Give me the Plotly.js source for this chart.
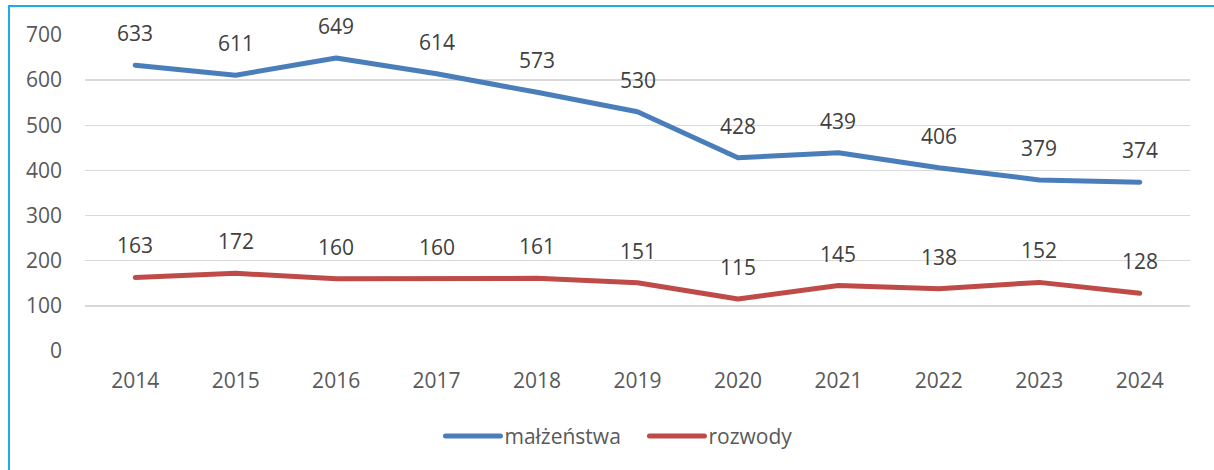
<!DOCTYPE html>
<html>
<head>
<meta charset="utf-8">
<script src="https://cdn.plot.ly/plotly-3.0.1.min.js"></script>
<style>
  html, body { margin: 0; padding: 0; background: #fff; }
  #wrap { position: absolute; left: 0; top: 0; width: 1214px; height: 470px; }
  #frame { position: absolute; left: 8px; top: 5px; width: 1220px; height: 480px;
           border-left: 2px solid #19AEEB; border-top: 2px solid #19AEEB; pointer-events: none; }
  #chart { position: absolute; left: 0; top: 0; width: 1214px; height: 470px; }
  .scatterlayer path.js-line, .legend path.js-line { stroke-linecap: round; stroke-linejoin: round; }
</style>
</head>
<body>
<div id="wrap">
  <div id="chart"></div>
  <div id="frame"></div>
</div>
<script>
const years = ['2014','2015','2016','2017','2018','2019','2020','2021','2022','2023','2024'];
const malzenstwa = [633, 611, 649, 614, 573, 530, 428, 439, 406, 379, 374];
const rozwody = [163, 172, 160, 160, 161, 151, 115, 145, 138, 152, 128];
const seriesNames = ['małżeństwa', 'rozwody'];
const yTicks = [0, 100, 200, 300, 400, 500, 600, 700];

const FONT = 'Open Sans, Liberation Sans, sans-serif';
const TXT = '#595959';
const FS = 21;

const traces = [
  { x: years, y: malzenstwa, name: seriesNames[0], type: 'scatter', mode: 'lines',
    line: { color: '#4A7EBB', width: 5 } },
  { x: years, y: rozwody, name: seriesNames[1], type: 'scatter', mode: 'lines',
    line: { color: '#BE4B48', width: 5 } }
];

const annotations = [];
[malzenstwa, rozwody].forEach(arr => {
  arr.forEach((v, i) => {
    annotations.push({ x: i, y: v, xref: 'x', yref: 'y', text: String(v),
      showarrow: false, yshift: 32, yanchor: 'middle', xanchor: 'center',
      font: { family: FONT, size: FS, color: '#404040' } });
  });
});

const layout = {
  width: 1214, height: 470,
  margin: { l: 85, r: 24, t: 35, b: 119 },
  paper_bgcolor: '#ffffff', plot_bgcolor: '#ffffff',
  font: { family: FONT, size: FS, color: TXT },
  showlegend: true,
  legend: { orientation: 'h', x: 0.528, xanchor: 'center', y: -0.27, yanchor: 'middle',
            font: { family: FONT, size: FS, color: TXT }, traceorder: 'normal',
            entrywidth: 159, entrywidthmode: 'pixels' },
  xaxis: { type: 'category', range: [-0.5, 10.5], showgrid: false, zeroline: false,
           showline: false, ticks: '', ticklabelstandoff: 15,
           tickfont: { family: FONT, size: FS, color: TXT } },
  yaxis: { range: [0, 700], tickvals: yTicks, showgrid: true, gridcolor: '#D9D9D9', gridwidth: 1.5,
           zeroline: false, showline: false, ticks: '', ticklabelstandoff: 22,
           tickfont: { family: FONT, size: FS, color: TXT } },
  annotations: annotations
};

Plotly.newPlot('chart', traces, layout, { displayModeBar: false, staticPlot: true }).then(() => {
  document.querySelectorAll('.legend .scrollbox, .legend').forEach(g => g.removeAttribute('clip-path'));
  document.querySelectorAll('.legend .traces path.js-line').forEach(p => p.setAttribute('d', 'M-19,0h55'));
});
</script>
</body>
</html>
